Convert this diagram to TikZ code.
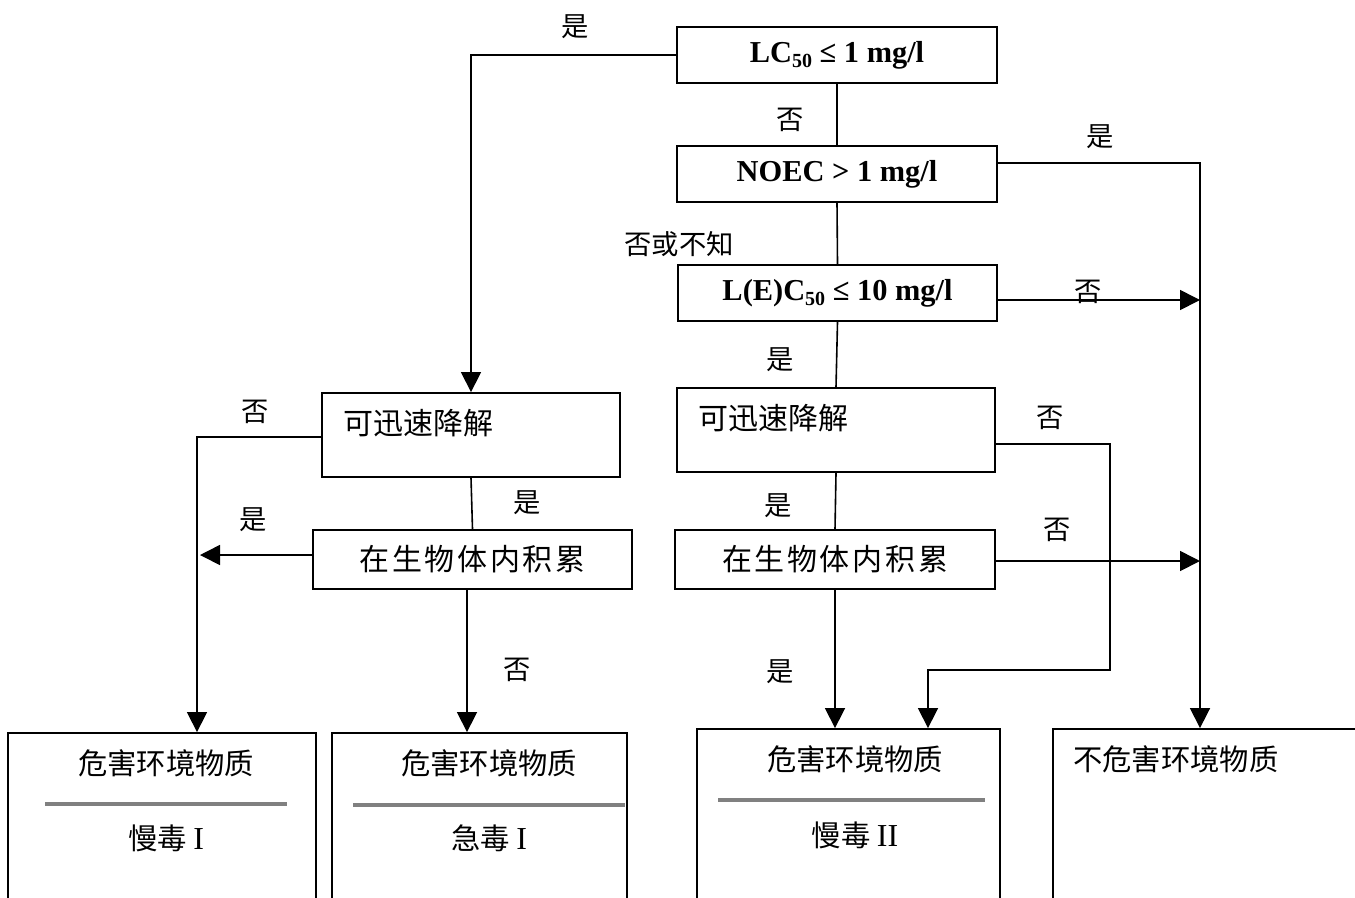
\documentclass[tikz,border=0pt]{standalone}
\usepackage{fontspec}
\setmainfont{Liberation Serif}
\newfontfamily\cjk{Noto Sans CJK SC}
\usetikzlibrary{arrows.meta,calc}
\begin{document}
\begin{tikzpicture}[x=0.75pt,y=-0.75pt,
  box/.style={draw,line width=1.4pt,inner sep=0pt},
  lat/.style={font=\fontsize{22.8}{26}\selectfont\bfseries},
  lab/.style={font=\cjk\fontsize{20.5}{24}\selectfont,inner sep=0pt},
  btxt/.style={font=\cjk\fontsize{22}{26}\selectfont,inner sep=0pt},
  mtxt/.style={font=\cjk\fontsize{22.5}{26}\selectfont,inner sep=0pt},
  conn/.style={line width=1.2pt},
  arr/.style={line width=1.2pt,-{Triangle[length=15pt,width=15pt]}},
  rule/.style={line width=3.2pt,color=gray},
]
\useasboundingbox (0,0) rectangle (1355,897);
\fill[white] (0,0) rectangle (1355,897);
\newcommand{\sub}[1]{\raisebox{-0.35ex}{\fontsize{15}{15}\selectfont #1}}
\newcommand{\rn}[1]{{\rmfamily\fontsize{24}{26}\selectfont #1}}
\newcommand{\accu}{\raisebox{-0.3ex}{在\hspace{2pt}生\hspace{2pt}物\hspace{2pt}体\hspace{2pt}内\hspace{2pt}积\hspace{2pt}累}}
% decision boxes
\node[box,lat,minimum width=240pt,minimum height=42pt] (LC) at (837,55) {LC\sub{50} ≤ 1 mg/l};
\node[box,lat,minimum width=240pt,minimum height=42pt] (NOEC) at (837,174) {NOEC > 1 mg/l};
\node[box,lat,minimum width=239.25pt,minimum height=42pt] (LEC) at (837.5,293) {L(E)C\sub{50} ≤ 10 mg/l};
\node[box,minimum width=238.5pt,minimum height=63pt] (RD) at (836,430) {};
\node[mtxt,anchor=west] (RDt) at (698,418) {可迅速降解};
\node[box,mtxt,minimum width=240pt,minimum height=44.25pt] (RA) at (835,559.5) {\accu};
\node[box,minimum width=223.5pt,minimum height=63pt] (LD) at (471,435) {};
\node[mtxt,anchor=west] (LDt) at (343,423) {可迅速降解};
\node[box,mtxt,minimum width=239.25pt,minimum height=44.25pt] (LA) at (472.5,559.5) {\accu};
% result boxes
\node[box,minimum width=231pt,minimum height=129pt] (B1) at (162,819) {};
\node[box,minimum width=221.25pt,minimum height=129pt] (B2) at (479.5,819) {};
\node[box,minimum width=227.25pt,minimum height=132pt] (B3) at (848.5,817) {};
\node[box,minimum width=231.75pt,minimum height=132pt] (B4) at (1207.5,817) {};
\node[btxt] (B1a) at (166,763) {危害环境物质};
\node[btxt] (B1b) at (166,838) {慢毒 \rn{I}};
\node[btxt] (B2a) at (489,763) {危害环境物质};
\node[btxt] (B2b) at (489,838) {急毒 \rn{I}};
\node[btxt] (B3a) at (855,759) {危害环境物质};
\node[btxt] (B3b) at (855,835) {慢毒 \rn{II}};
\node[btxt,anchor=west] (B4a) at (1073,759) {不危害环境物质};
\draw[rule] (45,804) -- (287,804);
\draw[rule] (353,805) -- (625,805);
\draw[rule] (718,800) -- (985,800);
% free ends on the vertical lines
\coordinate (vR1) at (1200,300);
\coordinate (vR2) at (1200,561);
\coordinate (vL) at (200,555);
\coordinate (RDturn) at (1110,670);
% connectors
\draw[arr] (LC.west) -| (LD.north);
\draw[conn] (LC.south) -- (NOEC.north);
\draw[conn] (NOEC.south) -- (LEC.north);
\draw[conn] (LEC.south) -- (RD.north);
\draw[conn] (RD.south) -- (RA.north);
\draw[arr] (RA.south) -- (RA.south |- B3.north);
\draw[arr] ($(RD.east)+(0,14)$) -| (RDturn) -| ($(B3.north)+(79.5,0)$);
\draw[arr] ($(RA.east)+(0,1.5)$) -- (vR2);
\draw[arr] ($(LEC.east)+(0,7)$) -- (vR1);
\draw[arr] ($(NOEC.east)+(0,-11)$) -| ($(B4.north)+(-7.5,0)$);
\draw[arr] ($(LD.west)+(0,2)$) -| ($(B1.north)+(35,0)$);
\draw[arr] ($(LA.west)+(0,-4.5)$) -- (vL);
\draw[conn] (LD.south) -- (LA.north);
\draw[arr] ($(LA.south)+(-5.5,0)$) -- ($(B2.north)+(-12.5,0)$);
% labels
\node[lab] at (575,27) {是};
\node[lab] at (790,120) {否};
\node[lab] at (1100,137) {是};
\node[lab] at (679,244) {否或不知};
\node[lab] at (1088,292) {否};
\node[lab] at (780,360) {是};
\node[lab] at (255,412) {否};
\node[lab] at (527,503) {是};
\node[lab] at (253,520) {是};
\node[lab] at (1050,418) {否};
\node[lab] at (778,506) {是};
\node[lab] at (1057,530) {否};
\node[lab] at (517,670) {否};
\node[lab] at (780,672) {是};
\end{tikzpicture}
\end{document}
